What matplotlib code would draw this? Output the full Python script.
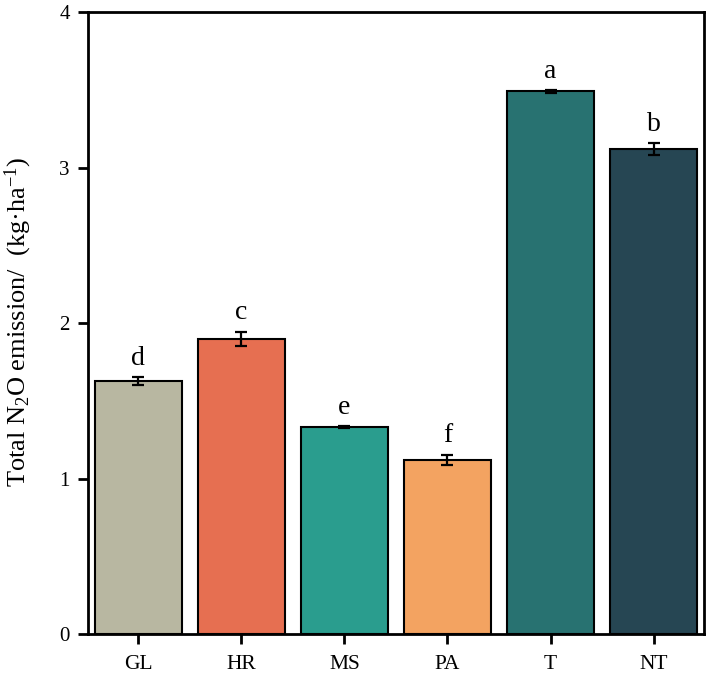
import matplotlib
matplotlib.use("Agg")
import matplotlib.pyplot as plt

categories = ["GL", "HR", "MS", "PA", "T", "NT"]
values = [1.63, 1.90, 1.33, 1.12, 3.49, 3.12]
errors = [0.025, 0.045, 0.006, 0.035, 0.008, 0.04]
letters = ["d", "c", "e", "f", "a", "b"]
colors = ["#B8B7A1", "#E66F51", "#2A9D8E", "#F3A361", "#287271", "#264653"]
yticks = [0, 1, 2, 3, 4]

serif = ["Liberation Serif", "DejaVu Serif"]
plt.rcParams["font.family"] = serif
plt.rcParams["mathtext.fontset"] = "custom"
plt.rcParams["mathtext.rm"] = "Liberation Serif"
plt.rcParams["mathtext.it"] = "Liberation Serif:italic"
plt.rcParams["mathtext.default"] = "rm"

fig = plt.figure(figsize=(7.09, 6.76), dpi=100)
ax = fig.add_axes([0.124, 0.062, 0.869, 0.920])

x = list(range(len(categories)))
ax.bar(x, values, width=0.85, color=colors, edgecolor="black", linewidth=1.5, zorder=2)
ax.errorbar(x, values, yerr=errors, fmt="none", ecolor="black", elinewidth=1.6,
            capsize=4, capthick=1.6, zorder=3)
for xi, v, e, l in zip(x, values, errors, letters):
    ax.text(xi, v + e + 0.04, l, ha="center", va="bottom", fontsize=20, family=serif)

ax.set_xlim(-0.49, 5.49)
ax.set_ylim(0, 4)
ax.set_xticks(x)
ax.set_xticklabels(categories, fontsize=15.5)
ax.set_yticks(yticks)
ax.set_yticklabels([str(t) for t in yticks], fontsize=15)
for s in ax.spines.values():
    s.set_linewidth(2)
ax.tick_params(axis="x", direction="out", length=7, width=2, pad=8)
ax.tick_params(axis="y", direction="out", length=7, width=2, pad=6)

ylabel = "Total N$_2$O emission/  (kg·ha$^{-1}$)"
fig.text(18.5 / 709, 1 - 322 / 676, ylabel, fontsize=19, rotation=90,
         ha="center", va="center", family=serif)

fig.savefig("out.png", dpi=100)
